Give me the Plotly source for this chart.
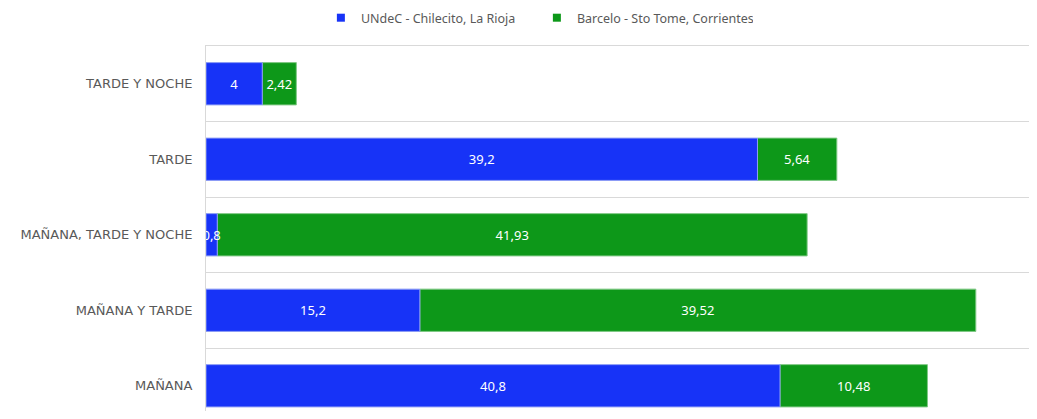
import plotly.graph_objects as go

# categories listed bottom to top
categorias = ['MAÑANA', 'MAÑANA Y TARDE', 'MAÑANA, TARDE Y NOCHE', 'TARDE', 'TARDE Y NOCHE']
undec = [40.8, 15.2, 0.8, 39.2, 4]
barcelo = [10.48, 39.52, 41.93, 5.64, 2.42]

NOMBRES = ['UNdeC - Chilecito, La Rioja', 'Barcelo - Sto Tome, Corrientes']
AZUL = '#1733F7'
VERDE = '#0D9819'


def create_chart():
    fig = go.Figure()
    # green drawn first (starting where blue ends) so the blue labels sit on top
    fig.add_trace(go.Bar(
        y=categorias, x=barcelo, base=undec, orientation='h', showlegend=False,
        marker=dict(color=VERDE, line=dict(color='#7fc884', width=1)),
        texttemplate='%{x}', textposition='inside', insidetextanchor='middle',
        constraintext='none', textangle=0,
        textfont=dict(color='white', size=13, family='Noto Sans')
    ))
    fig.add_trace(go.Bar(
        y=categorias, x=undec, orientation='h', showlegend=False,
        marker=dict(color=AZUL, line=dict(color='#8c9cf5', width=1)),
        texttemplate='%{x}', textposition='inside', insidetextanchor='middle',
        constraintext='none', textangle=0,
        textfont=dict(color='white', size=13, family='Noto Sans')
    ))
    # legend entries with small square swatches
    for nombre, color in zip(NOMBRES, [AZUL, VERDE]):
        fig.add_trace(go.Scatter(
            x=[None], y=[None], mode='markers', name=nombre,
            marker=dict(symbol='square', size=8, color=color)
        ))

    # the page adds an 8px body margin, so the figure is 16px smaller than the window
    fig.update_layout(
        width=1021, height=403,
        barmode='overlay', bargap=0.44,
        separators=',.',
        paper_bgcolor='white', plot_bgcolor='white',
        margin=dict(l=198, r=0, t=38, b=0, autoexpand=False),
        font=dict(family='Noto Sans', color='#595959'),
        legend=dict(orientation='h', xref='container', x=0.518, xanchor='center',
                    yref='container', y=0.975, yanchor='middle',
                    font=dict(size=12.5, color='#595959'),
                    entrywidth=171, entrywidthmode='pixels',
                    traceorder='normal', tracegroupgap=0),
    )
    fig.update_xaxes(range=[0, 58.5], showgrid=False, showticklabels=False, zeroline=False,
                     side='top', showline=True, linecolor='#d9d9d9', linewidth=1,
                     automargin=False)
    fig.update_yaxes(range=[-0.334, 4.5], tickson='boundaries', showgrid=True,
                     gridcolor='#d9d9d9', gridwidth=1, showline=True, linecolor='#d9d9d9',
                     ticks='', ticklen=0, ticklabelstandoff=10, automargin=False,
                     tickfont=dict(family='DejaVu Sans', size=13, color='#595959'))
    return fig


fig = create_chart()
fig.write_html('out.html')
